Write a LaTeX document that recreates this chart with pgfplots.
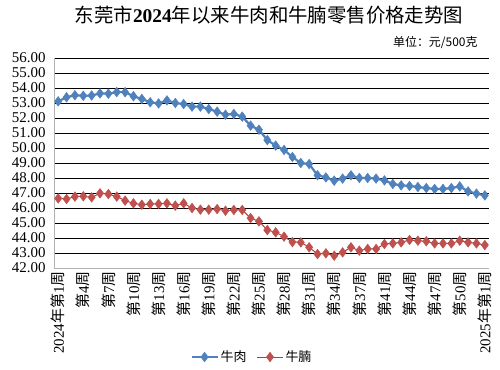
\documentclass[border=0pt]{standalone}
\usepackage{fontspec}
\setmainfont{Liberation Serif}
\newfontfamily\cjk{Noto Sans CJK SC}
\usepackage{pgfplots}
\usepackage{pgfplotstable}
\pgfplotsset{compat=1.18}
\definecolor{beefblue}{HTML}{4F81BD}
\definecolor{brisketred}{HTML}{C0504D}
\newcommand{\wk}[1]{{\cjk 第}#1{\cjk 周}}

\pgfplotstableread{
i beef brisket
0 53.11 46.64
1 53.38 46.60
2 53.52 46.76
3 53.48 46.78
4 53.50 46.71
5 53.64 46.98
6 53.62 46.93
7 53.73 46.76
8 53.72 46.49
9 53.45 46.31
10 53.27 46.22
11 53.05 46.27
12 52.97 46.27
13 53.17 46.31
14 53.00 46.16
15 52.93 46.31
16 52.76 46.00
17 52.76 45.89
18 52.60 45.89
19 52.42 45.93
20 52.22 45.82
21 52.27 45.87
22 52.09 45.87
23 51.49 45.33
24 51.22 45.11
25 50.53 44.53
26 50.16 44.38
27 49.87 44.09
28 49.40 43.73
29 49.00 43.71
30 48.93 43.38
31 48.18 42.93
32 48.04 42.98
33 47.82 42.82
34 47.96 43.04
35 48.18 43.38
36 48.00 43.16
37 48.00 43.27
38 47.96 43.27
39 47.84 43.60
40 47.60 43.64
41 47.51 43.71
42 47.47 43.87
43 47.40 43.82
44 47.33 43.78
45 47.27 43.64
46 47.27 43.64
47 47.33 43.64
48 47.44 43.82
49 47.11 43.71
50 46.96 43.64
51 46.84 43.53
}\pricedata

\begin{document}
\begin{tikzpicture}[x=1bp,y=1bp]
\useasboundingbox (0,0) rectangle (500,369);
\begin{axis}[
  at={(54bp,101bp)}, anchor=south west,
  scale only axis, width=435bp, height=210bp,
  xmin=-0.5, xmax=51.5, ymin=42, ymax=56,
  ytick={42,43,...,56},
  xtick={0,3,...,51},
  xticklabels={{2024{\cjk 年第}1{\cjk 周}},\wk{4},\wk{7},\wk{10},\wk{13},\wk{16},\wk{19},\wk{22},\wk{25},\wk{28},\wk{31},\wk{34},\wk{37},\wk{41},\wk{44},\wk{47},\wk{50},{2025{\cjk 年第}1{\cjk 周}}},
  x tick label style={rotate=90, anchor=east, font=\fontsize{15}{15}\selectfont},
  y tick label style={font=\fontsize{15}{15}\selectfont, xshift=-5bp},
  /pgf/number format/fixed,
  /pgf/number format/fixed zerofill,
  /pgf/number format/precision=2,
  /pgf/number format/assume math mode=true,
  major tick length=0pt,
  ymajorgrids,
  grid style={black, line width=0.7bp},
  axis x line*=bottom, axis y line*=left,
  axis line style={draw=gray!60, line width=0.8bp},
  clip=false,
  legend style={at={(0.455,-0.424)}, anchor=center, draw=none, fill=none,
    legend columns=2, font=\fontsize{13}{13}\selectfont,
    /tikz/every even column/.append style={column sep=8bp}},
  legend image code/.code={\draw[mark repeat=2,mark phase=2,#1] plot coordinates {(0bp,0bp)(13bp,0bp)(26bp,0bp)};},
]
\addplot[color=beefblue, line width=2.2bp, mark=diamond*, mark size=4.8bp,
  mark options={solid, fill=beefblue, draw=beefblue, line width=0.5bp}]
  table[x=i, y=beef] {\pricedata};
\addlegendentry{\cjk 牛肉}
\addplot[color=brisketred!85!black, line width=1bp, mark=diamond*, mark size=4.8bp,
  mark options={solid, fill=brisketred, draw=brisketred, line width=0.5bp}]
  table[x=i, y=brisket] {\pricedata};
\addlegendentry{\cjk 牛腩}
\end{axis}
\node[font=\fontsize{19.5}{20}\selectfont] at (269,354) {{\cjk 东莞市}\textbf{2024}{\cjk 年以来牛肉和牛腩零售价格走势图}};
\node[anchor=east, font=\fontsize{12}{12}\selectfont\cjk] at (481,326) {单位：元/500克};
\end{tikzpicture}
\end{document}
